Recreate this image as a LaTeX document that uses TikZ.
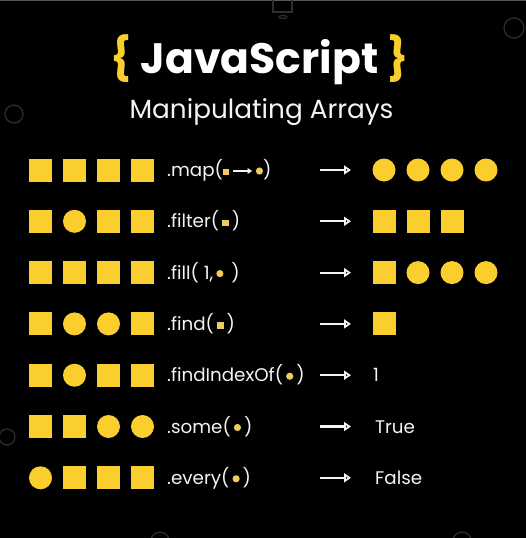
\documentclass[tikz,border=0pt]{standalone}
\usepackage{fontspec}
\setmainfont{Poppins}
\usetikzlibrary{arrows.meta}
\definecolor{jsy}{HTML}{FACE2D}
\definecolor{doty}{HTML}{EDCB63}
\definecolor{txt}{HTML}{F4F4F4}
\definecolor{faint}{HTML}{2E2E2E}
\newcommand{\msq}{\textcolor{doty}{\rule[1.5pt]{6.5pt}{6.5pt}}}
\newcommand{\mdot}{\tikz[x=1pt,y=1pt,baseline=-5.5pt]\fill[doty] (0,0) circle (3.6pt);}
\newcommand{\marr}{\tikz[x=1pt,y=1pt,baseline=-5.5pt]\draw[txt,line width=1.3pt,-{Triangle[length=4.5pt,width=5.5pt]}] (0,0) -- (19,0);}
\tikzset{
  sq/.style={rectangle,fill=jsy,minimum size=23pt,inner sep=0pt,outer sep=0pt},
  ci/.style={circle,fill=jsy,minimum size=23pt,inner sep=0pt,outer sep=0pt},
  lbl/.style={anchor=base west,inner sep=0pt,text=txt,font=\fontsize{18.3}{21}\selectfont},
  res/.style={anchor=base west,inner sep=0pt,text=txt,font=\fontsize{18.3}{21}\selectfont},
  resarrow/.style={draw=txt,line width=2.2pt,-{Triangle[length=7pt,width=9pt]}},
  deco/.style={draw=faint,line width=1.2pt}
}
\begin{document}
\begin{tikzpicture}[x=1pt,y=-1pt]
\fill[black] (0,0) rectangle (526,538);
\useasboundingbox (0,0) rectangle (526,538);
\draw[draw=faint!80!white,line width=1pt] (0,0.5) -- (526,0.5);
% faint decorations
\draw[deco] (273,-1) rectangle (292,12);
\draw[deco] (283,17) ellipse (4pt and 1.5pt);
\draw[deco] (514,28) circle (10);
\draw[deco] (14,114) circle (9);
\draw[deco] (7,437) circle (8);
\draw[deco] (160,541) circle (9);
\draw[deco] (462,541) circle (9);
% title
\node[anchor=base,inner sep=0pt,text=white,font=\fontsize{42.5}{48}\selectfont\bfseries] (title) at (259.5,73) {\textcolor{jsy}{\{} JavaScript \textcolor{jsy}{\}}};
\node[anchor=base,inner sep=0pt,text=txt,font=\fontsize{26.3}{30}\selectfont] (subtitle) at (261.5,118) {Manipulating Arrays};
% row 1
\foreach \t [count=\k] in {sq,sq,sq,sq} \node[\t] (a1-\k) at ({6.5+34*\k},170) {};
\node[lbl] (t1) at (167,176.5) {.map(\msq\,\marr\,\mdot)};
\coordinate (p1) at (320,170); \coordinate (q1) at (351,170);
\draw[resarrow] (p1) -- (q1);
\foreach \t [count=\k] in {ci,ci,ci,ci} \node[\t] (b1-\k) at ({350+34*\k},170) {};
% row 2
\foreach \t [count=\k] in {sq,ci,sq,sq} \node[\t] (a2-\k) at ({6.5+34*\k},221.3) {};
\node[lbl] (t2) at (167,227.8) {.filter(\,\msq\,)};
\coordinate (p2) at (320,221.3); \coordinate (q2) at (351,221.3);
\draw[resarrow] (p2) -- (q2);
\foreach \t [count=\k] in {sq,sq,sq} \node[\t] (b2-\k) at ({350+34*\k},221.3) {};
% row 3
\foreach \t [count=\k] in {sq,sq,sq,sq} \node[\t] (a3-\k) at ({6.5+34*\k},272.6) {};
\node[lbl] (t3) at (167,279.1) {.fill( 1,\,\mdot\, )};
\coordinate (p3) at (320,272.6); \coordinate (q3) at (351,272.6);
\draw[resarrow] (p3) -- (q3);
\foreach \t [count=\k] in {sq,ci,ci,ci} \node[\t] (b3-\k) at ({350+34*\k},272.6) {};
% row 4
\foreach \t [count=\k] in {sq,ci,ci,sq} \node[\t] (a4-\k) at ({6.5+34*\k},323.9) {};
\node[lbl] (t4) at (167,330.4) {.find(\,\msq\,)};
\coordinate (p4) at (320,323.9); \coordinate (q4) at (351,323.9);
\draw[resarrow] (p4) -- (q4);
\foreach \t [count=\k] in {sq} \node[\t] (b4-\k) at ({350+34*\k},323.9) {};
% row 5
\foreach \t [count=\k] in {sq,ci,sq,sq} \node[\t] (a5-\k) at ({6.5+34*\k},375.2) {};
\node[lbl] (t5) at (167,381.7) {.findIndexOf(\,\mdot\,)};
\coordinate (p5) at (320,375.2); \coordinate (q5) at (351,375.2);
\draw[resarrow] (p5) -- (q5);
\node[res] (r5) at (373,381.7) {1};
% row 6
\foreach \t [count=\k] in {sq,sq,ci,ci} \node[\t] (a6-\k) at ({6.5+34*\k},426.5) {};
\node[lbl] (t6) at (167,433) {.some(\,\mdot\,)};
\coordinate (p6) at (320,426.5); \coordinate (q6) at (351,426.5);
\draw[resarrow] (p6) -- (q6);
\node[res] (r6) at (375,433) {True};
% row 7
\foreach \t [count=\k] in {ci,sq,sq,sq} \node[\t] (a7-\k) at ({6.5+34*\k},477.8) {};
\node[lbl] (t7) at (167,484.3) {.every(\,\mdot\,)};
\coordinate (p7) at (320,477.8); \coordinate (q7) at (351,477.8);
\draw[resarrow] (p7) -- (q7);
\node[res] (r7) at (375,484.3) {False};
\end{tikzpicture}
\end{document}
